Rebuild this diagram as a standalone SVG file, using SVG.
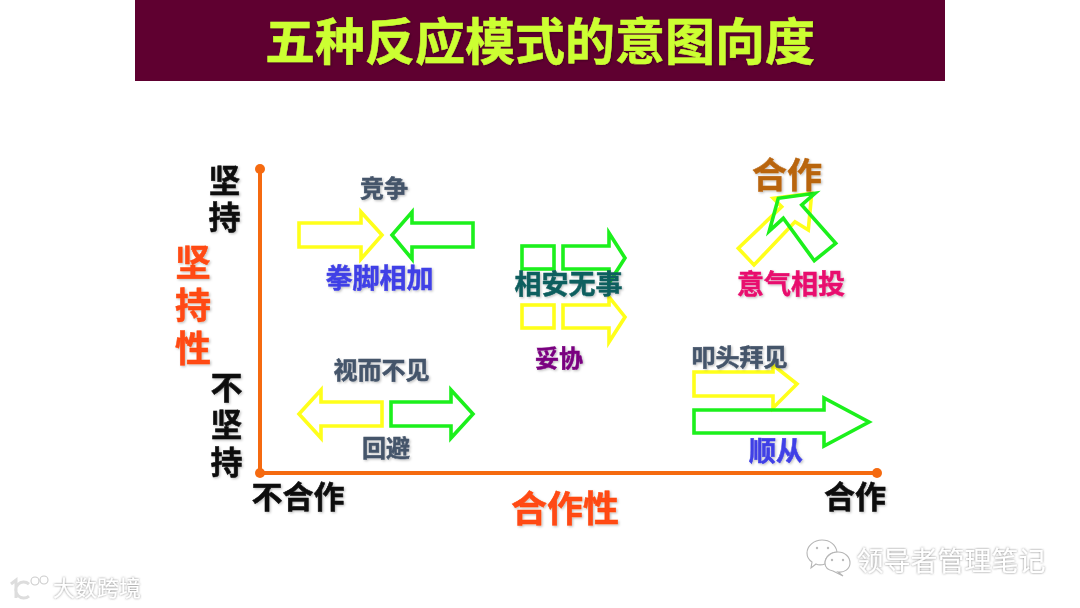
<svg xmlns="http://www.w3.org/2000/svg" width="1080" height="608" viewBox="0 0 1080 608">
<style>
text{font-family:"Noto Sans CJK SC","Noto Sans",sans-serif;font-weight:700;text-anchor:middle;filter:url(#sh);stroke-width:.5px}
.y{fill:none;stroke:#ffff1a;stroke-width:3.6}
.g{fill:none;stroke:#1cf01c;stroke-width:3.6}
.ax{fill:none;stroke:#f56a10;stroke-width:4}
.dot{fill:#f56a10}
.k{fill:#0a0a0a;stroke:#0a0a0a}
.o{fill:#ff4a12;stroke:#ff4a12}
.s{fill:#44546a;stroke:#44546a;font-size:24px}
.b{fill:#3f3fe6;stroke:#3f3fe6;font-size:27px}
.wm{fill:#fff;stroke:none;font-weight:400;filter:url(#wm)}
</style>
<defs>
<filter id="sh" x="-20%" y="-20%" width="140%" height="140%"><feGaussianBlur in="SourceGraphic" stdDeviation=".35" result="a"/><feDropShadow in="a" dx="1.2" dy="1.2" stdDeviation="1" flood-color="#000" flood-opacity=".25"/></filter>
<filter id="wm" x="-20%" y="-20%" width="140%" height="140%"><feDropShadow dx="0" dy="0" stdDeviation="1" flood-color="#555" flood-opacity=".75"/></filter>
</defs>
<rect width="1080" height="608" fill="#fff"/>
<g id="title"><rect x="135" y="0" width="810" height="81" fill="#5f0030"/><text x="540" y="60" font-size="50" fill="#ccff33" stroke="#ccff33">五种反应模式的意图向度</text></g>
<g id="connectors">
<path class="ax" d="M260 169V473H877"/>
<circle class="dot" cx="260" cy="169" r="5"/><circle class="dot" cx="260" cy="473" r="5"/><circle class="dot" cx="877" cy="473" r="5"/>
</g>
<g id="axis-labels">
<text class="k" font-size="32"><tspan x="224.500" y="192">坚</tspan><tspan x="224.500" y="229">持</tspan></text>
<text class="k" font-size="32"><tspan x="226.500" y="399">不</tspan><tspan x="226.500" y="436">坚</tspan><tspan x="226.500" y="474">持</tspan></text>
<text class="o" font-size="36"><tspan x="193" y="276">坚</tspan><tspan x="193" y="319">持</tspan><tspan x="193" y="362">性</tspan></text>
<text class="k" font-size="31" x="298" y="508">不合作</text><text class="k" font-size="31" x="855" y="508">合作</text>
<text class="o" font-size="36" x="565" y="522">合作性</text>
</g>
<g id="competition">
<text class="s" x="384" y="197">竞争</text>
<path class="y" d="M299 223H361V212L382 235L361 259V247H299Z"/>
<path class="g" d="M473 223H412V212L392 235L412 259V247H473Z"/>
<text class="b" x="379.500" y="288">拳脚相加</text>
</g>
<g id="compromise">
<rect class="g" x="522" y="246" width="32" height="23"/>
<path class="g" d="M563 246H609V233L625 258L609 283V269H563Z"/>
<rect class="y" x="522" y="305" width="32" height="23"/>
<path class="y" d="M563 305H609V297L625 317L609 342V328H563Z"/>
<text font-size="27" fill="#0f5e5e" stroke="#0f5e5e" x="568.500" y="294">相安无事</text>
<text font-size="24" fill="#7a0080" stroke="#7a0080" x="559" y="367">妥协</text>
</g>
<g id="avoid">
<text class="s" x="381.500" y="379">视而不见</text>
<path class="y" d="M382 402H321V390L299 414L321 438V426H382Z"/>
<path class="g" d="M391 402H451V390L473 414L451 438V426H391Z"/>
<text class="s" x="386" y="457">回避</text>
</g>
<g id="cooperate">
<path class="y" d="M738.3 248.3L781.7 206.7L773.3 198.3L811.7 193.3L808.3 230L795 221.7L754 265Z"/>
<path class="g" d="M814.3 260.700L835.700 243.300L801.700 205L815 193.300L778.300 198.300L769.300 231L783.300 218.300Z"/>
<text font-size="35" fill="#b9650f" stroke="#b9650f" x="787" y="188">合作</text>
<text font-size="27" fill="#e8106e" stroke="#e8106e" x="791" y="294">意气相投</text>
</g>
<g id="accommodate">
<path class="y" d="M694 372H773V365L797 384L773 408V396H694Z"/>
<path class="g" d="M694 410H824V398L869 422L824 446V433H694Z"/>
<text class="s" x="739.500" y="366">叩头拜见</text>
<text class="b" x="776" y="461">顺从</text>
</g>
<g id="watermark">
<text class="wm" font-size="27" x="951" y="571">领导者管理笔记</text>
<text class="wm" font-size="22" x="97" y="596">大数跨境</text>
<g fill="#fff" stroke="#b5b5b5" stroke-width="1.1">
<path d="M807 553C807 546 814 540 822 540C830 540 836 545 837 552C830 552 825 557 825 564C822 565 818 565 816 564L811 568L812 562C809 560 807 557 807 553Z"/>
<path d="M825 563C825 557 831 552 838 552C845 552 850 557 850 563C850 569 844 573 838 572L843 576L833 571C828 570 825 567 825 563Z"/>
<circle cx="817" cy="548" r="1.200" fill="#bbb" stroke="none"/><circle cx="828" cy="548" r="1.200" fill="#bbb" stroke="none"/>
<circle cx="832" cy="560" r="1.200" fill="#bbb" stroke="none"/><circle cx="843" cy="560" r="1.200" fill="#bbb" stroke="none"/>
<path d="M11 584L16 580V598M29 584A8 8 0 1 0 29 596" fill="none" stroke="#ddd" stroke-width="3"/>
<circle cx="35" cy="581" r="4" fill="none" stroke="#ccc"/><circle cx="44" cy="580" r="4" fill="none" stroke="#ccc"/>
</g>
</g>
</svg>
